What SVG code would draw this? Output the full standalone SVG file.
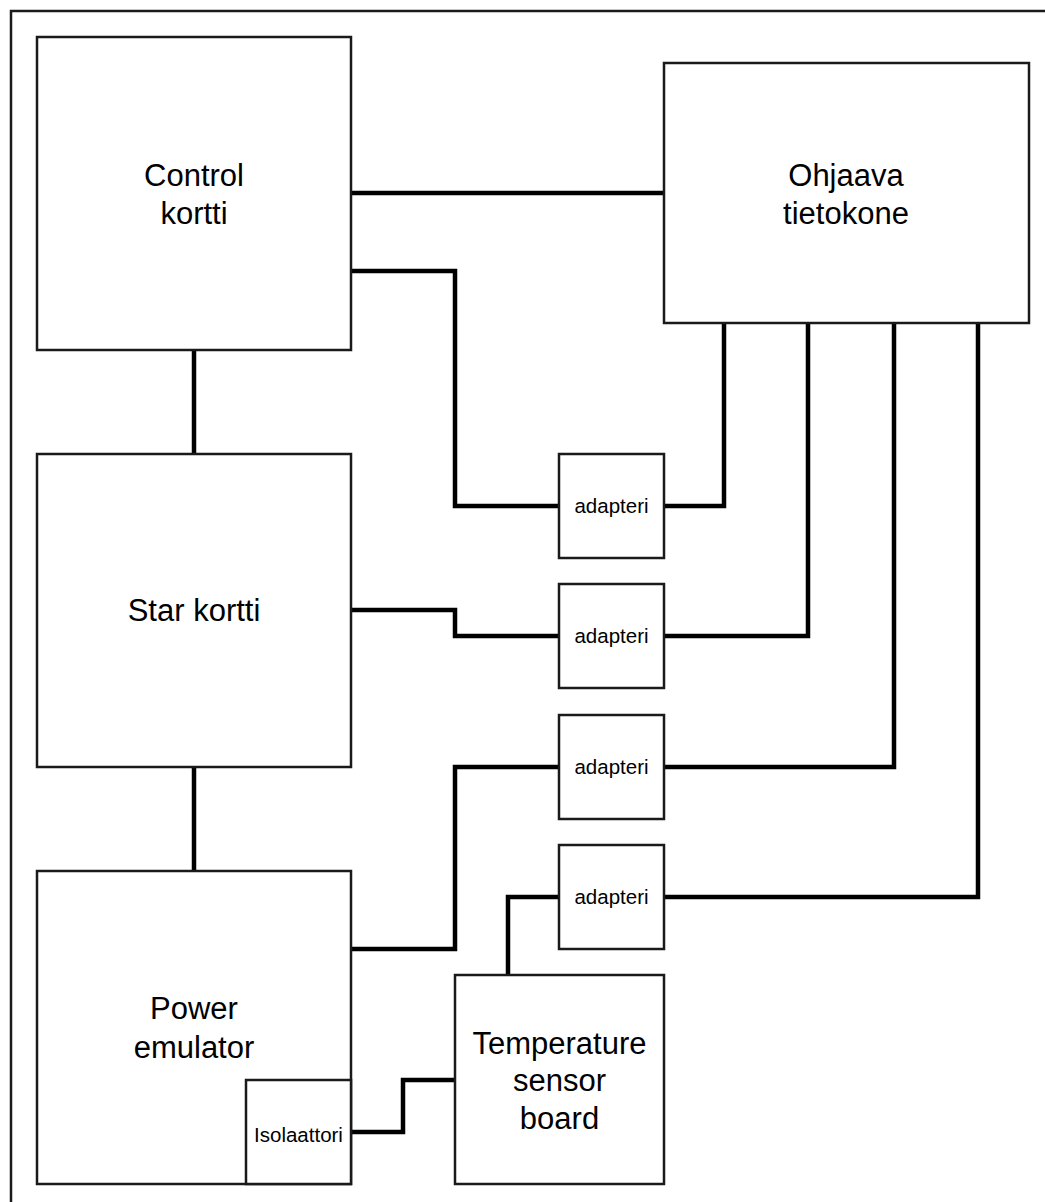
<svg xmlns="http://www.w3.org/2000/svg" width="1045" height="1202" viewBox="0 0 1045 1202">
<style>
.box{fill:#fff;stroke:#1a1a1a;stroke-width:2.5}
.big{font-family:"Liberation Sans",Arial,sans-serif;font-size:31px;fill:#000;text-anchor:middle}
.small{font-family:"Liberation Sans",Arial,sans-serif;font-size:20.5px;fill:#000;text-anchor:middle}
.conn{fill:none;stroke:#000;stroke-width:4.5;stroke-linejoin:miter}
</style>
<rect width="1045" height="1202" fill="#fff"/>
<path d="M11,1202 V11 H1045" fill="none" stroke="#1a1a1a" stroke-width="2.5"/>
<g id="connectors">
<path class="conn" d="M351,193 H664"/>
<path class="conn" d="M351,271 H455 V506 H559"/>
<path class="conn" d="M724,323 V506 H664"/>
<path class="conn" d="M194,350 V454"/>
<path class="conn" d="M351,610 H455 V636 H559"/>
<path class="conn" d="M808,323 V636 H664"/>
<path class="conn" d="M194,767 V871"/>
<path class="conn" d="M351,949 H455 V767 H559"/>
<path class="conn" d="M894,323 V767 H664"/>
<path class="conn" d="M508,975 V897 H559"/>
<path class="conn" d="M978,323 V897 H664"/>
<path class="conn" d="M351,1132 H403 V1080 H455"/>
</g>
<g id="control-kortti">
<rect class="box" x="37" y="37" width="314" height="313"/>
<text class="big" x="194" y="186">Control</text>
<text class="big" x="194" y="224">kortti</text>
</g>
<g id="ohjaava-tietokone">
<rect class="box" x="664" y="63" width="365" height="260"/>
<text class="big" x="846" y="186">Ohjaava</text>
<text class="big" x="846" y="224">tietokone</text>
</g>
<g id="star-kortti">
<rect class="box" x="37" y="454" width="314" height="313"/>
<text class="big" x="194" y="621">Star kortti</text>
</g>
<g id="power-emulator">
<rect class="box" x="37" y="871" width="314" height="313"/>
<text class="big" x="194" y="1019">Power</text>
<text class="big" x="194" y="1058">emulator</text>
</g>
<g id="isolaattori">
<rect class="box" x="246" y="1080" width="105" height="104"/>
<text class="small" x="298.5" y="1142">Isolaattori</text>
</g>
<g id="temperature-sensor-board">
<rect class="box" x="455" y="975" width="209" height="209"/>
<text class="big" x="559.5" y="1054">Temperature</text>
<text class="big" x="559.5" y="1091">sensor</text>
<text class="big" x="559.5" y="1129">board</text>
</g>
<g id="adapteri-1">
<rect class="box" x="559" y="454" width="105" height="104"/>
<text class="small" x="611.5" y="513">adapteri</text>
</g>
<g id="adapteri-2">
<rect class="box" x="559" y="584" width="105" height="104"/>
<text class="small" x="611.5" y="643">adapteri</text>
</g>
<g id="adapteri-3">
<rect class="box" x="559" y="715" width="105" height="104"/>
<text class="small" x="611.5" y="774">adapteri</text>
</g>
<g id="adapteri-4">
<rect class="box" x="559" y="845" width="105" height="104"/>
<text class="small" x="611.5" y="904">adapteri</text>
</g>
</svg>
